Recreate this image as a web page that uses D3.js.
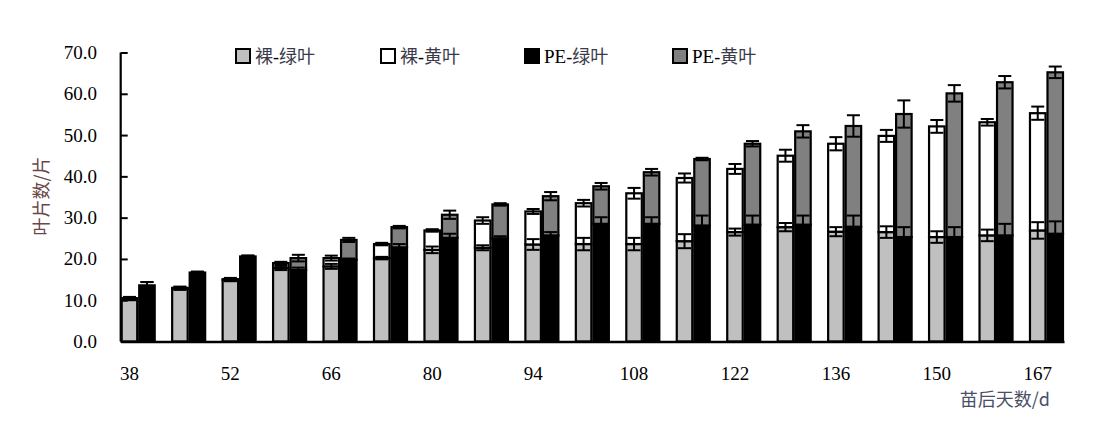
<!DOCTYPE html>
<html><head><meta charset="utf-8">
<script src="https://cdn.jsdelivr.net/npm/d3@7"></script>
<style>
html,body{margin:0;padding:0;background:#fff;}
svg{display:block;}
</style></head>
<body>
<svg id="chart" width="1095" height="426"></svg>
<script>
// ---- data ----
const days = ["38","45","52","59","66","73","80","87","94","101","108","115","122","129","136","143","150","157","167"];
const tickDays = ["38","52","66","80","94","108","122","136","150","167"];
const yTicks = [0,10,20,30,40,50,60,70];
const seriesNames = ["裸-绿叶","裸-黄叶","PE-绿叶","PE-黄叶"];
const bareGreen  = [10.3,12.8,14.9,17.8,18.2,20.2,22.2,22.7,23.5,23.6,23.6,24.3,26.5,27.7,26.6,26.5,25.3,25.7,26.9];
const bareYellow = [0.2,0.2,0.2,1.2,2.0,3.4,4.7,6.6,8.0,9.9,12.3,15.3,15.3,17.3,21.3,23.3,26.8,27.4,28.4];
const peGreen    = [13.6,16.7,20.6,17.3,19.8,22.8,25.1,25.0,25.7,28.5,28.5,28.1,28.3,28.3,27.8,25.3,25.3,25.7,26.1];
const peYellow   = [0,0,0,2.9,4.8,4.9,5.6,8.2,9.5,9.1,12.5,16.1,19.6,22.6,24.4,29.8,34.8,37.1,39.1];
const bareGreenErr  = [0.3,0.3,0.3,0.5,0.6,0.3,0.8,0.6,1.3,1.5,1.5,1.7,0.85,1.0,1.1,1.4,1.4,1.4,2.0];
const bareYellowErr = [0.3,0.3,0.3,0.3,0.6,0.3,0.3,0.8,0.6,0.8,1.3,1.1,1.2,1.45,1.6,1.45,1.55,0.8,1.6];
const peGreenErr    = [0.8,0.2,0.2,0.6,0.3,0.8,1.0,0.5,0.8,1.6,1.6,2.4,2.2,2.2,2.7,2.4,2.4,2.8,3.0];
const peYellowErr   = [0.8,0.2,0.2,0.8,0.5,0.3,1.0,0.3,1.0,0.8,0.8,0.3,0.65,1.5,2.6,3.3,2.0,1.5,1.4];

const colors = {"裸-绿叶":"#c0c0c0","裸-黄叶":"#ffffff","PE-绿叶":"#000000","PE-黄叶":"#808080"};

const svg = d3.select("#chart");
const serif = "'Liberation Serif','Times New Roman',serif";
const cjk = "'Noto Sans CJK SC','Liberation Serif',serif";

const x = d3.scaleBand().domain(days).range([120.7, 1064]).paddingInner(0.306).paddingOuter(0);
const xSub = d3.scaleBand().domain(["裸","PE"]).range([0, x.bandwidth()]);
const y = d3.scaleLinear().domain([0,70]).range([341.5, 52.5]);

// build stacked records
const stacks = [];
days.forEach((d,i)=>{
  stacks.push({day:d, grp:"裸", name:"裸-绿叶", y0:0, y1:bareGreen[i], err:bareGreenErr[i]});
  stacks.push({day:d, grp:"裸", name:"裸-黄叶", y0:bareGreen[i], y1:bareGreen[i]+bareYellow[i], err:bareYellowErr[i]});
  stacks.push({day:d, grp:"PE", name:"PE-绿叶", y0:0, y1:peGreen[i], err:peGreenErr[i]});
  stacks.push({day:d, grp:"PE", name:"PE-黄叶", y0:peGreen[i], y1:peGreen[i]+peYellow[i], err:peYellowErr[i]});
});

const g = svg.append("g");
// bars
g.selectAll("rect.seg").data(stacks.filter(s=>s.y1-s.y0>0)).join("rect")
  .attr("class","seg")
  .attr("x", s=>x(s.day)+xSub(s.grp)+1)
  .attr("width", xSub.bandwidth()-2)
  .attr("y", s=>y(s.y1))
  .attr("height", s=>y(s.y0)-y(s.y1))
  .attr("fill", s=>colors[s.name])
  .attr("stroke","#000").attr("stroke-width",2.2);

// error bars
const cap = 6.5;
const eb = g.selectAll("g.err").data(stacks).join("g").attr("class","err")
  .attr("transform", s=>`translate(${x(s.day)+xSub(s.grp)+xSub.bandwidth()/2},0)`);
eb.append("line").attr("x1",0).attr("x2",0)
  .attr("y1",s=>y(s.y1+s.err)).attr("y2",s=>y(s.y1-s.err))
  .attr("stroke","#000").attr("stroke-width",2);
eb.append("line").attr("x1",-cap).attr("x2",cap)
  .attr("y1",s=>y(s.y1+s.err)).attr("y2",s=>y(s.y1+s.err))
  .attr("stroke","#000").attr("stroke-width",2);
eb.append("line").attr("x1",-cap).attr("x2",cap)
  .attr("y1",s=>y(s.y1-s.err)).attr("y2",s=>y(s.y1-s.err))
  .attr("stroke","#000").attr("stroke-width",2);

// y axis
const yAxis = d3.axisRight(y).tickValues(yTicks).tickSize(7).tickFormat("");
const ya = svg.append("g").attr("transform","translate(120.7,0)").call(yAxis);
ya.select(".domain").attr("stroke","#000").attr("stroke-width",2.2).attr("d","M0,52.5V341.5");
ya.selectAll(".tick line").attr("stroke","#000").attr("stroke-width",2);
svg.append("g").selectAll("text").data(yTicks).join("text")
  .attr("x",97).attr("y",v=>y(v)+6.5).attr("text-anchor","end")
  .attr("font-family",serif).attr("font-size",19).attr("fill","#000")
  .text(d3.format(".1f"));

// x axis
const xAxis = d3.axisBottom(x).tickValues([]).tickSizeOuter(0);
const xa = svg.append("g").attr("transform","translate(0,341.5)").call(xAxis);
xa.select(".domain").attr("stroke","#000").attr("stroke-width",2.4);
svg.append("g").selectAll("text").data(tickDays).join("text")
  .attr("x",d=>x(d)+xSub.bandwidth()/2).attr("y",380)
  .attr("text-anchor","middle")
  .attr("font-family",serif).attr("font-size",19).attr("fill","#000")
  .text(d=>d);

// axis titles
svg.append("text").attr("transform","translate(48,196) rotate(-90)")
  .attr("text-anchor","middle").attr("font-family",cjk).attr("font-size",18)
  .attr("fill","#6a4848").text("叶片数/片");
svg.append("text").attr("x",1050).attr("y",406).attr("text-anchor","end")
  .attr("font-family",cjk).attr("font-size",18).attr("fill","#4a4e66").text("苗后天数/d");

// legend
const legX = [236, 381, 525, 673];
const leg = svg.append("g").selectAll("g").data(seriesNames).join("g")
  .attr("transform",(d,i)=>`translate(${legX[i]},49)`);
leg.append("rect").attr("width",14).attr("height",14)
  .attr("fill",d=>colors[d]).attr("stroke","#000").attr("stroke-width",2);
leg.append("text").attr("x",19).attr("y",14)
  .attr("font-family",cjk).attr("font-size",18).attr("fill","#3a3a4a")
  .each(function(d){
    const t=d3.select(this);
    const parts=d.split("-");
    t.append("tspan").attr("font-family",serif).attr("fill","#000").attr("font-size",19).text(parts[0]==="PE"?"PE":"");
    if(parts[0]!=="PE") t.append("tspan").text(parts[0]);
    t.append("tspan").attr("font-family",serif).attr("fill","#000").text("-");
    t.append("tspan").text(parts[1]);
  });
</script>
</body></html>
